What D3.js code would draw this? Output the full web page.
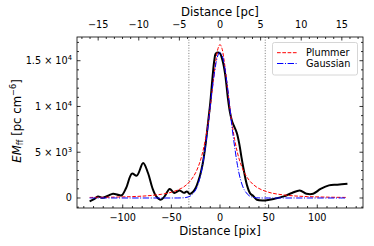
<!DOCTYPE html>
<html>
<head>
<meta charset="utf-8">
<script src="https://cdn.jsdelivr.net/npm/d3@7"></script>
<style>
  body { margin: 0; background: #fff; }
  svg { display: block; font-family: "DejaVu Sans", sans-serif; }
</style>
</head>
<body>
<svg id="chart" width="374" height="246"></svg>
<script>
// observed profile (pix, EM)
const obsPix = [-134, -129, -125.5, -120.5, -115, -110, -104, -101, -96.5, -90.5, -85.5, -79, -74, -69.5, -65.5, -61, -57, -51.7, -47, -41.5, -37, -34, -31, -26, -20.7, -17.5, -15, -12.1, -10, -7.6, -5.9, -4.5, -2.5, 0, 2.4, 5.2, 8, 10, 12.1, 14, 17.3, 20, 22, 24, 27.6, 31, 34.4, 38, 46.5, 55, 65.5, 74, 82, 88.9, 95.8, 103.4, 112, 120.6, 131]
const obsEM = [-370, -100, 175, 20, 250, 470, 330, 300, 1090, 2660, 2440, 3830, 2730, 1090, 175, -190, 175, 985, 550, 830, 560, 720, 450, 910, 2400, 3900, 5700, 8400, 10400, 13300, 15000, 15750, 15900, 15800, 15100, 13600, 11000, 9500, 8500, 7950, 7100, 5800, 4500, 3300, 1450, 500, 200, -190, -260, -110, 175, 550, 830, 470, 470, 985, 1380, 1455, 1565]

// model fits (pix, EM)
const modelPix = [-134, -110, -90, -75, -60, -50, -40, -35, -30, -25, -21, -18, -15, -12, -10, -8, -6, -4, -2, 0, 2, 4, 6, 8, 10, 12, 15, 18, 21, 25, 30, 35, 40, 50, 60, 75, 90, 110, 130]
const plummerEM = [60, 94, 154, 239, 409, 627, 1041, 1397, 1935, 2775, 3815, 4920, 6410, 8385, 9980, 11750, 13560, 15190, 16350, 16770, 16350, 15190, 13560, 11750, 9980, 8385, 6410, 4920, 3815, 2775, 1935, 1397, 1041, 627, 409, 239, 154, 94, 60]
const gaussianEM = [0, 0, 0, 0, 0, 0, 10, 55, 248, 885, 2050, 3550, 5630, 8040, 10030, 11910, 13480, 14800, 15630, 15930, 15630, 14800, 13480, 11910, 10030, 8040, 5630, 3550, 2050, 885, 248, 55, 10, 0, 0, 0, 0, 0, 0]

const markerPix = [-32, 46.5]
const pixTicks = [-100, -50, 0, 50, 100]
const pcTicks = [-15, -10, -5, 0, 5, 10, 15]
const emTicks = [0, 5000, 10000, 15000]
const emTickLabels = [["0", ""], ["5 × 10", "3"], ["1 × 10", "4"], ["1.5 × 10", "4"]]
const legendNames = ["Plummer", "Gaussian"]

const pixPerPc = 8.35
const m = { left: 77, right: 363, top: 37, bottom: 208 }
const fs = 9.7, fsLabel = 11.7

const svg = d3.select("#chart")
const x = d3.scaleLinear().domain([-147, 147]).range([m.left, m.right])
const xPc = d3.scaleLinear().domain([-147 / pixPerPc, 147 / pixPerPc]).range([m.left, m.right])
const y = d3.scaleLinear().domain([-1093, 17590]).range([m.bottom, m.top])

const minus = s => s.replace("-", "\u2212")

// ticks (inward)
const tickG = svg.append("g").attr("stroke", "#000").attr("stroke-width", 0.8)
d3.range(-140, 141, 10).forEach(v => {
  const len = pixTicks.includes(v) ? 3.5 : 2
  tickG.append("line").attr("x1", x(v)).attr("x2", x(v)).attr("y1", m.bottom).attr("y2", m.bottom - len)
})
d3.range(-17, 18, 1).forEach(v => {
  const len = pcTicks.includes(v) ? 3.5 : 2
  tickG.append("line").attr("x1", xPc(v)).attr("x2", xPc(v)).attr("y1", m.top).attr("y2", m.top + len)
})
d3.range(-1000, 17001, 1000).forEach(v => {
  const len = emTicks.includes(v) ? 3.5 : 2
  tickG.append("line").attr("x1", m.left).attr("x2", m.left + len).attr("y1", y(v)).attr("y2", y(v))
  tickG.append("line").attr("x1", m.right).attr("x2", m.right - len).attr("y1", y(v)).attr("y2", y(v))
})

// tick labels
svg.append("g").selectAll("text").data(pixTicks).join("text")
  .attr("x", d => x(d)).attr("y", 220.5).attr("text-anchor", "middle")
  .attr("font-size", fs).text(d => minus(String(d)))
svg.append("g").selectAll("text").data(pcTicks).join("text")
  .attr("x", d => xPc(d)).attr("y", 28.3).attr("text-anchor", "middle")
  .attr("font-size", fs).text(d => minus(String(d)))
const yl = svg.append("g").selectAll("text").data(emTicks).join("text")
  .attr("x", 72).attr("y", d => y(d) + 3.5).attr("text-anchor", "end").attr("font-size", fs)
yl.each(function(d, i) {
  const t = d3.select(this)
  t.append("tspan").text(emTickLabels[i][0])
  if (emTickLabels[i][1]) t.append("tspan").attr("dy", -3.8).attr("font-size", 6.8).text(emTickLabels[i][1])
})

// axis titles
svg.append("text").attr("x", (m.left + m.right) / 2).attr("y", 234.5).attr("text-anchor", "middle")
  .attr("font-size", fsLabel).text("Distance [pix]")
svg.append("text").attr("x", (m.left + m.right) / 2).attr("y", 16.3).attr("text-anchor", "middle")
  .attr("font-size", fsLabel).text("Distance [pc]")
const ylab = svg.append("text").attr("transform", "translate(20.5,121) rotate(-90)")
  .attr("text-anchor", "middle").attr("font-size", fsLabel)
ylab.append("tspan").attr("font-style", "italic").text("EM")
ylab.append("tspan").attr("font-size", 8.2).attr("dy", 2.5).text("ff")
ylab.append("tspan").attr("dy", -2.5).text(" [pc cm")
ylab.append("tspan").attr("font-size", 8.2).attr("dy", -4.2).text("\u22126")
ylab.append("tspan").attr("dy", 4.2).text("]")

// clip
svg.append("clipPath").attr("id", "clip").append("rect")
  .attr("x", m.left).attr("y", m.top).attr("width", m.right - m.left).attr("height", m.bottom - m.top)
const plot = svg.append("g").attr("clip-path", "url(#clip)")

plot.selectAll(".marker").data(markerPix).join("line")
  .attr("x1", d => x(d)).attr("x2", d => x(d)).attr("y1", m.top).attr("y2", m.bottom)
  .attr("stroke", "#777").attr("stroke-width", 1).attr("stroke-dasharray", "1,1.65")

const line = d3.line().x(d => x(d[0])).y(d => y(d[1])).curve(d3.curveCatmullRom)

plot.append("path").datum(d3.zip(obsPix, obsEM)).attr("d", line)
  .attr("fill", "none").attr("stroke", "#000").attr("stroke-width", 2)
plot.append("path").datum(d3.zip(modelPix, plummerEM)).attr("d", line)
  .attr("fill", "none").attr("stroke", "red").attr("stroke-width", 1).attr("stroke-dasharray", "3.7,1.6")
plot.append("path").datum(d3.zip(modelPix, gaussianEM)).attr("d", line)
  .attr("fill", "none").attr("stroke", "blue").attr("stroke-width", 1).attr("stroke-dasharray", "6.4,1.6,1,1.6")

// frame
svg.append("rect").attr("x", m.left).attr("y", m.top).attr("width", m.right - m.left).attr("height", m.bottom - m.top)
  .attr("fill", "none").attr("stroke", "#000").attr("stroke-width", 0.8)

// legend
const lg = svg.append("g")
lg.append("rect").attr("x", 272.5).attr("y", 42.5).attr("width", 85).attr("height", 32.5).attr("rx", 2)
  .attr("fill", "#fff").attr("fill-opacity", 0.8).attr("stroke", "#ccc").attr("stroke-width", 0.8)
const legendStyles = [["red", "3.7,1.6"], ["blue", "6.4,1.6,1,1.6"]]
legendNames.forEach((name, i) => {
  const ly = 52.7 + i * 10.8
  lg.append("line").attr("x1", 277).attr("x2", 298).attr("y1", ly).attr("y2", ly)
    .attr("stroke", legendStyles[i][0]).attr("stroke-width", 1).attr("stroke-dasharray", legendStyles[i][1])
  lg.append("text").attr("x", 306).attr("y", ly + 3.5).attr("font-size", fs).text(name)
})
</script>
</body>
</html>
